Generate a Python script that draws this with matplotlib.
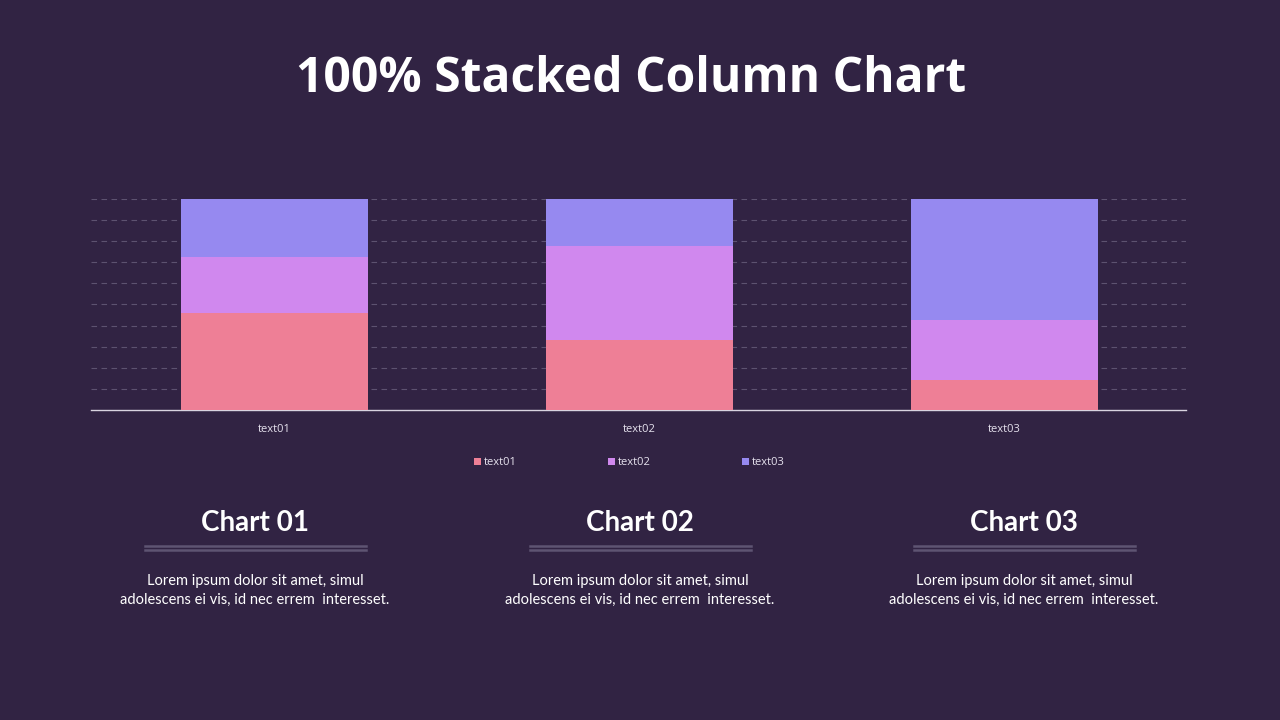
import numpy as np
import matplotlib.pyplot as plt

# values (percent of each column)
categories = ["text01", "text02", "text03"]
series_names = ["text01", "text02", "text03"]
s1 = [46, 33, 14]
s2 = [26.5, 44.5, 28.5]
s3 = [27.5, 22.5, 57.5]

headers = ["Chart 01", "Chart 02", "Chart 03"]
body = "Lorem ipsum dolor sit amet, simul\nadolescens ei vis, id nec errem  interesset."

bg = "#312343"
colors = ["#ee7f96", "#d088ee", "#9689f0"]

fig = plt.figure(figsize=(12.8, 7.2), dpi=100, facecolor=bg)

fig.text(0.493, 0.889, "100% Stacked Column Chart", ha="center", va="center",
         color="white", fontsize=34.6, fontweight="bold", family="Open Sans")

ax = fig.add_axes([91/1280, 1 - 410/720, 1095/1280, 211/720])
ax.set_facecolor(bg)

x = np.arange(len(categories))
data = np.array([s1, s2, s3], dtype=float)
data = data / data.sum(axis=0) * 100
bottom = np.zeros(len(categories))
for vals, name, c in zip(data, series_names, colors):
    ax.bar(x + 0.003, vals, bottom=bottom, width=0.512, color=c, label=name, zorder=3)
    bottom += vals

ax.set_xlim(-0.5, 2.5)
ax.set_ylim(0, 100)
ax.set_yticks(np.arange(10, 101, 10))
ax.yaxis.grid(True, color="#5d5270", linestyle=(0, (5, 4)), linewidth=0.8, zorder=0)
ax.tick_params(axis="y", left=False, labelleft=False)
ax.tick_params(axis="x", length=0, colors="#e6e2ee", labelsize=8, pad=10)
ax.set_xticks(x + 0.003)
ax.set_xticklabels(categories, family="Open Sans")
for s in ["top", "left", "right"]:
    ax.spines[s].set_visible(False)
ax.spines["bottom"].set_color("#d9d4e0")
ax.spines["bottom"].set_linewidth(1)

leg = ax.legend(loc="center", bbox_to_anchor=(0.4918, -0.25), ncol=3, frameon=False,
                handlelength=0.6, handleheight=0.6, handletextpad=0.3,
                columnspacing=8.2, prop={"family": "Open Sans", "size": 8})
for t in leg.get_texts():
    t.set_color("#e6e2ee")

# captions under the chart
centers = [255, 640, 1024]
for cx, h in zip(centers, headers):
    fig.text(cx/1280, 1 - 523/720, h, ha="center", va="center", color="white",
             fontsize=20, fontweight="bold", family="Lato")
    for yy in (546, 550):
        fig.add_artist(plt.Line2D([(cx - 110)/1280, (cx + 111)/1280],
                                  [1 - yy/720, 1 - yy/720],
                                  color="#5e5472", linewidth=1.8))
    fig.text(cx/1280, 1 - 590/720, body, ha="center", va="center", color="white",
             fontsize=10.5, family="Lato", linespacing=1.45)

fig.savefig("out.png", dpi=100, facecolor=bg)
